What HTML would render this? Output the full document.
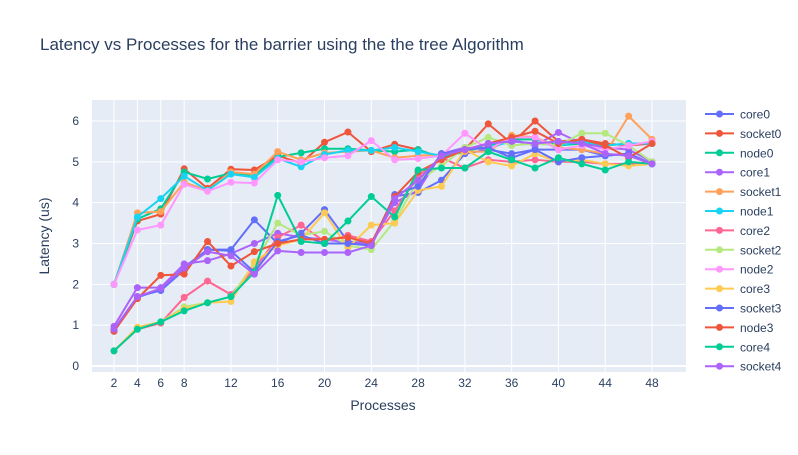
<!DOCTYPE html>
<html><head><meta charset="utf-8"><style>
body{margin:0;background:#fff;font-family:"Liberation Sans",sans-serif;}
svg text{font-family:"Liberation Sans",sans-serif;fill:#2a3f5f;}
</style></head><body>
<svg id="chart" width="798" height="450">
<rect width="798" height="450" fill="#fff"/>
<text x="40" y="50" font-size="17">Latency vs Processes for the barrier using the the tree Algorithm</text>
<rect x="92" y="100" width="594" height="272" fill="#e5ecf6"/>
<g id="grid"></g><g id="series"></g><g id="legend"></g>
<text x="383" y="410" font-size="14" text-anchor="middle">Processes</text>
<text x="49" y="236" font-size="14" text-anchor="middle" transform="rotate(-90 49 236)">Latency (us)</text>
</svg>
<script>
const xs=[2,4,6,8,10,12,14,16,18,20,22,24,26,28,30,32,34,36,38,40,42,44,46,48];
const xTicks=[2,4,6,8,12,16,20,24,28,32,36,40,44,48];
const yTicks=[0,1,2,3,4,5,6];
const names=["core0","socket0","node0","core1","socket1","node1","core2","socket2","node2","core3","socket3","node3","core4","socket4"];
const colors=["#636efa","#EF553B","#00cc96","#ab63fa","#FFA15A","#19d3f3","#FF6692","#B6E880","#FF97FF","#FECB52","#636efa","#EF553B","#00cc96","#ab63fa"];
const core0=[0.85,1.68,1.88,2.42,2.85,2.85,3.58,3.0,3.25,3.83,3.05,3.0,4.15,4.25,4.55,5.2,5.3,5.2,5.3,5.3,5.3,5.15,5.2,4.95];
const socket0=[2.0,3.55,3.72,4.83,4.35,4.82,4.8,5.15,4.97,5.48,5.73,5.25,5.43,5.3,5.1,5.3,5.93,5.45,6.0,5.5,5.55,5.45,5.4,5.45];
const node0=[2.0,3.6,3.85,4.75,4.58,4.72,4.68,5.12,5.22,5.32,5.32,5.28,5.25,5.3,5.1,5.25,5.4,5.55,5.55,5.4,5.45,5.4,5.45,5.45];
const core1=[0.97,1.92,1.92,2.5,2.58,2.75,3.0,3.25,3.15,3.1,3.02,3.0,4.0,4.3,5.2,5.35,5.3,5.55,5.4,5.72,5.45,5.35,5.3,5.0];
const socket1=[2.0,3.75,3.78,4.5,4.3,4.75,4.7,5.25,5.05,5.22,5.25,5.28,5.1,5.15,5.18,5.25,5.25,5.65,5.6,5.35,5.3,5.2,6.12,5.55];
const node1=[2.0,3.65,4.1,4.65,4.3,4.7,4.62,5.08,4.88,5.18,5.28,5.28,5.35,5.25,5.15,5.3,5.35,5.5,5.45,5.4,5.5,5.4,5.45,5.45];
const core2=[0.37,0.9,1.05,1.68,2.08,1.75,2.38,3.15,3.45,3.05,3.2,3.05,3.8,4.65,5.1,4.85,5.05,5.0,5.05,5.0,5.0,4.95,4.95,5.0];
const socket2=[0.37,0.92,1.08,1.45,1.55,1.7,2.5,3.5,3.2,3.3,2.95,2.85,3.55,4.55,4.9,5.35,5.6,5.4,5.45,5.4,5.7,5.7,5.4,5.0];
const node2=[2.0,3.33,3.45,4.45,4.28,4.5,4.48,5.05,5.0,5.1,5.15,5.52,5.05,5.08,5.15,5.7,5.3,5.6,5.6,5.3,5.4,5.3,5.4,5.5];
const core3=[0.37,0.95,1.08,1.4,1.55,1.58,2.55,2.95,3.1,3.75,2.9,3.45,3.5,4.3,4.4,5.3,5.0,4.9,5.2,5.0,5.05,4.95,4.9,4.95];
const socket3=[0.88,1.7,1.85,2.35,2.85,2.82,2.3,3.05,3.2,3.0,3.0,2.95,4.2,4.4,5.2,5.3,5.35,5.1,5.3,5.0,5.1,5.15,5.2,4.95];
const node3=[0.85,1.65,2.22,2.25,3.05,2.45,2.8,3.0,3.1,3.1,3.15,3.0,4.15,4.75,5.05,5.3,5.45,5.6,5.75,5.45,5.55,5.4,5.1,5.45];
const core4=[0.37,0.9,1.08,1.35,1.55,1.7,2.3,4.18,3.05,3.0,3.55,4.15,3.65,4.8,4.85,4.85,5.25,5.05,4.85,5.1,4.95,4.8,5.0,4.95];
const socket4=[0.9,1.7,1.9,2.4,2.8,2.7,2.25,2.82,2.78,2.78,2.78,2.95,4.1,4.55,5.15,5.3,5.45,5.5,5.45,5.5,5.45,5.2,5.15,4.95];
const seriesData=[core0,socket0,node0,core1,socket1,node1,core2,socket2,node2,core3,socket3,node3,core4,socket4];
const NS="http://www.w3.org/2000/svg";
const X=v=>90.6+v*11.696, Y=v=>366-v*40.83;
const grid=document.getElementById('grid');
function mk(tag,attrs,parent){const e=document.createElementNS(NS,tag);for(const k in attrs)e.setAttribute(k,attrs[k]);parent.appendChild(e);return e;}
yTicks.forEach(t=>{
 const l=mk('line',{x1:92,x2:686,y1:Y(t),y2:Y(t),stroke:'#fff','stroke-width':t===0?2:1},grid);
 
 
 const tx=mk('text',{x:79,y:Y(t)+4,'font-size':12,'text-anchor':'end'},grid);tx.textContent=t;
 
 
});
xTicks.forEach(t=>{
 const l=mk('line',{x1:X(t),x2:X(t),y1:100,y2:372,stroke:'#fff','stroke-width':1},grid);
 
 
 const tx=mk('text',{x:X(t),y:387,'font-size':12,'text-anchor':'middle'},grid);tx.textContent=t;
 
 
});
const sg=document.getElementById('series'), lg=document.getElementById('legend');
seriesData.forEach((d,i)=>{
 const g=mk('g',{},sg);
 
 
 mk('polyline',{points:d.map((v,j)=>X(xs[j])+','+Y(v)).join(' '),fill:'none',stroke:colors[i],'stroke-width':2},g);
 d.forEach((v,j)=>{const c=mk('circle',{cx:X(xs[j]),cy:Y(v),r:3.5,fill:colors[i]},g);
  
  });
 const ly=114+i*19.4;
 const le=mk('g',{},lg);
 
 
 mk('line',{x1:705,x2:734,y1:ly,y2:ly,stroke:colors[i],'stroke-width':2},le);
 mk('circle',{cx:719.5,cy:ly,r:3.5,fill:colors[i]},le);
 const t=mk('text',{x:740,y:ly+4.5,'font-size':12},le);t.textContent=names[i];
});
</script>
</body></html>
